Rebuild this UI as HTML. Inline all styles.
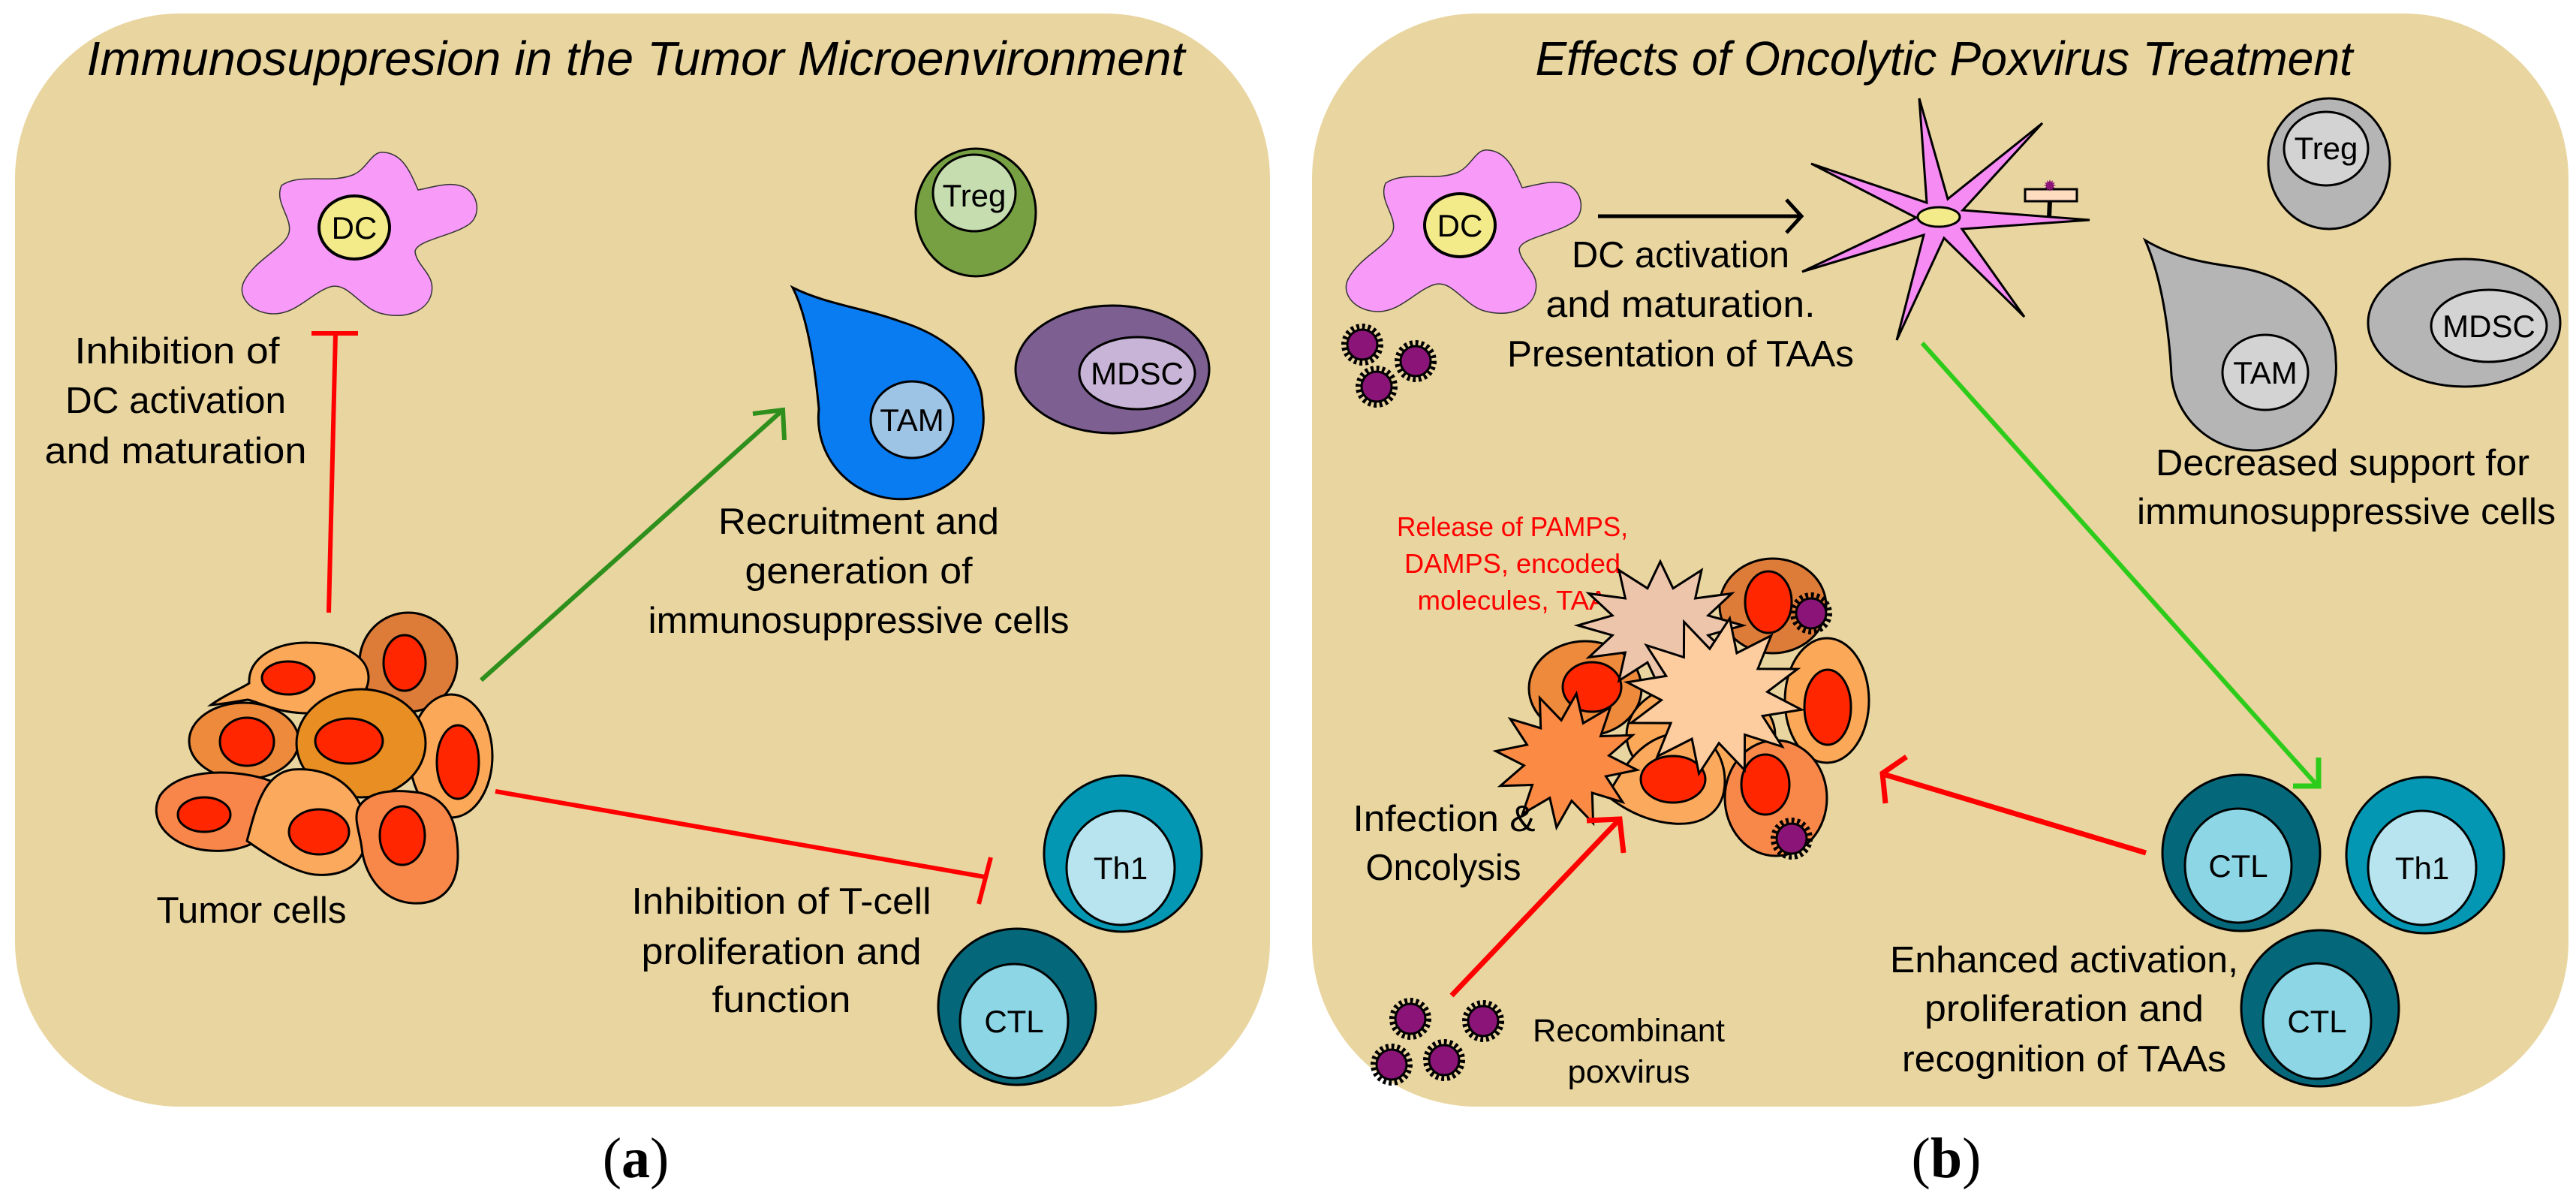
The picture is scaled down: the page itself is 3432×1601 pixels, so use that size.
<!DOCTYPE html>
<html><head><meta charset="utf-8"><style>
html,body{margin:0;padding:0;background:#fff;}
svg{display:block;}
text{font-family:"Liberation Sans",sans-serif;fill:#000;}
</style></head><body>
<svg width="3432" height="1601" viewBox="0 0 3432 1601" xmlns="http://www.w3.org/2000/svg">
<defs>
<g id="virus">
<circle r="23" fill="none" stroke="#000" stroke-width="10" stroke-dasharray="3.6 3.6"/>
<circle r="20" fill="#8B1479" stroke="#000" stroke-width="3"/>
</g>
<polygon id="burst" vector-effect="non-scaling-stroke" points="1,0 .58,.155 .866,.5 .424,.424 .5,.866 .155,.58 0,1 -.155,.58 -.5,.866 -.424,.424 -.866,.5 -.58,.155 -1,0 -.58,-.155 -.866,-.5 -.424,-.424 -.5,-.866 -.155,-.58 0,-1 .155,-.58 .5,-.866 .424,-.424 .866,-.5 .58,-.155"/>
</defs>

<!-- panels -->
<rect x="20" y="18" width="1672" height="1456" rx="220" ry="220" fill="#E9D59F"/>
<rect x="1748" y="18" width="1674" height="1456" rx="220" ry="220" fill="#E9D59F"/>

<text x="847" y="100" font-size="64" font-style="italic" text-anchor="middle" textLength="1463" lengthAdjust="spacingAndGlyphs">Immunosuppresion in the Tumor Microenvironment</text>
<text x="2590" y="100" font-size="64" font-style="italic" text-anchor="middle" textLength="1089" lengthAdjust="spacingAndGlyphs">Effects of Oncolytic Poxvirus Treatment</text>

<!-- ========== PANEL A ========== -->
<path d="M375,247 C400,230 440,245 470,233 C490,225 495,200 512,203 C535,205 545,225 557,253 C575,250 600,240 620,250 C640,262 640,290 623,300 C600,315 555,320 553,335 C555,355 580,365 575,390 C570,415 540,425 510,418 C480,412 465,375 440,382 C415,390 395,418 365,418 C335,418 315,395 325,375 C340,345 380,330 385,310 C390,290 365,270 375,247 Z" fill="#F89BF8" stroke="#333" stroke-width="1.5"/>
<ellipse cx="472" cy="303" rx="47" ry="42" fill="#F3EB8A" stroke="#000" stroke-width="4"/>
<text x="472" y="318" font-size="42" text-anchor="middle">DC</text>

<line x1="438" y1="816" x2="447" y2="444" stroke="#FF0000" stroke-width="6"/>
<line x1="415" y1="444" x2="477" y2="444" stroke="#FF0000" stroke-width="6"/>

<text x="236" y="484" font-size="49" text-anchor="middle" textLength="273" lengthAdjust="spacingAndGlyphs">Inhibition of</text>
<text x="234" y="550" font-size="49" text-anchor="middle" textLength="294" lengthAdjust="spacingAndGlyphs">DC activation</text>
<text x="234" y="617" font-size="49" text-anchor="middle" textLength="349" lengthAdjust="spacingAndGlyphs">and maturation</text>

<!-- Treg -->
<ellipse cx="1300" cy="283" rx="80" ry="85" fill="#77A043" stroke="#000" stroke-width="3"/>
<ellipse cx="1298" cy="257" rx="55" ry="51" fill="#C5DDAF" stroke="#000" stroke-width="3"/>
<text x="1298" y="275" font-size="42" text-anchor="middle">Treg</text>
<!-- TAM -->
<path d="M1056,383 C1100,405 1150,410 1199,428 C1270,450 1309,495 1309,540 A110,108 0 1,1 1091,545 C1085,480 1075,420 1056,383 Z" fill="#0A7CF2" stroke="#000" stroke-width="3"/>
<ellipse cx="1215" cy="559" rx="55" ry="51" fill="#9DC3E5" stroke="#000" stroke-width="3"/>
<text x="1215" y="574" font-size="42" text-anchor="middle">TAM</text>
<!-- MDSC -->
<ellipse cx="1482" cy="492" rx="129" ry="85" fill="#7D5F91" stroke="#000" stroke-width="3"/>
<ellipse cx="1515" cy="497" rx="77" ry="48" fill="#C8B4D6" stroke="#000" stroke-width="3"/>
<text x="1515" y="512" font-size="42" text-anchor="middle">MDSC</text>

<!-- green arrow -->
<line x1="641" y1="906" x2="1043" y2="546" stroke="#2E8F1C" stroke-width="6"/>
<polyline points="1003,551 1043,546 1045,586" fill="none" stroke="#2E8F1C" stroke-width="6"/>

<text x="1144" y="711" font-size="49" text-anchor="middle" textLength="374" lengthAdjust="spacingAndGlyphs">Recruitment and</text>
<text x="1144" y="777" font-size="49" text-anchor="middle" textLength="303" lengthAdjust="spacingAndGlyphs">generation of</text>
<text x="1144" y="843" font-size="49" text-anchor="middle" textLength="561" lengthAdjust="spacingAndGlyphs">immunosuppressive cells</text>

<!-- tumor cluster a -->
<g stroke="#000" stroke-width="3">
<ellipse cx="544" cy="882" rx="65" ry="66" fill="#DD7B38"/>
<ellipse cx="539" cy="883" rx="28" ry="37" fill="#FF2600"/>
<path d="M281,939 C300,925 320,918 332,910 C330,875 370,855 410,856 C460,856 491,875 491,903 C491,930 460,950 410,950 C370,950 345,935 330,932 C310,935 295,938 281,939 Z" fill="#FBA958"/>
<ellipse cx="384" cy="903" rx="35" ry="22" fill="#FF2600"/>
<ellipse cx="325" cy="987" rx="73" ry="51" fill="#EE8A3C"/>
<ellipse cx="329" cy="988" rx="36" ry="32" fill="#FF2600"/>
<ellipse cx="601" cy="1007" rx="55" ry="82" fill="#FBA958"/>
<ellipse cx="610" cy="1015" rx="28" ry="49" fill="#FF2600"/>
<ellipse cx="481" cy="990" rx="86" ry="72" fill="#E88E22"/>
<ellipse cx="465" cy="987" rx="45" ry="30" fill="#FF2600"/>
<path d="M360,1040 C320,1025 240,1020 213,1060 C195,1095 230,1130 280,1133 C320,1136 345,1120 360,1110 Z" fill="#F8864A"/>
<ellipse cx="272" cy="1085" rx="35" ry="23" fill="#FF2600"/>
<path d="M329,1120 C340,1080 350,1030 390,1025 C450,1020 488,1060 488,1110 C488,1150 460,1168 420,1165 C390,1162 350,1135 329,1120 Z" fill="#FBA95C"/>
<ellipse cx="425" cy="1108" rx="40" ry="30" fill="#FF2600"/>
<path d="M478,1075 C490,1055 520,1050 560,1056 C600,1065 610,1100 610,1140 C610,1185 585,1205 550,1203 C505,1200 485,1160 482,1130 C480,1110 470,1090 478,1075 Z" fill="#F8884A"/>
<ellipse cx="536" cy="1113" rx="30" ry="39" fill="#FF2600"/>
</g>
<text x="335" y="1229" font-size="49" text-anchor="middle" textLength="253" lengthAdjust="spacingAndGlyphs">Tumor cells</text>

<!-- red T to T-cells -->
<line x1="660" y1="1054" x2="1312" y2="1168" stroke="#FF0000" stroke-width="6"/>
<line x1="1320" y1="1142" x2="1304" y2="1204" stroke="#FF0000" stroke-width="6"/>

<text x="1041" y="1217" font-size="49" text-anchor="middle" textLength="399" lengthAdjust="spacingAndGlyphs">Inhibition of T-cell</text>
<text x="1041" y="1284" font-size="49" text-anchor="middle" textLength="373" lengthAdjust="spacingAndGlyphs">proliferation and</text>
<text x="1041" y="1348" font-size="49" text-anchor="middle" textLength="185" lengthAdjust="spacingAndGlyphs">function</text>

<ellipse cx="1496" cy="1137" rx="105" ry="104" fill="#0497B3" stroke="#000" stroke-width="3"/>
<ellipse cx="1493" cy="1156" rx="72" ry="76" fill="#B8E4EF" stroke="#000" stroke-width="3"/>
<text x="1493" y="1171" font-size="42" text-anchor="middle">Th1</text>
<ellipse cx="1355" cy="1341" rx="105" ry="104" fill="#05687A" stroke="#000" stroke-width="3"/>
<ellipse cx="1351" cy="1360" rx="72" ry="76" fill="#8DD6E5" stroke="#000" stroke-width="3"/>
<text x="1351" y="1375" font-size="42" text-anchor="middle">CTL</text>

<text x="847" y="1568" font-size="76" text-anchor="middle" style="font-family:'Liberation Serif',serif">(<tspan font-weight="bold">a</tspan>)</text>

<!-- ========== PANEL B ========== -->
<g transform="translate(1471,-3)">
<path d="M375,247 C400,230 440,245 470,233 C490,225 495,200 512,203 C535,205 545,225 557,253 C575,250 600,240 620,250 C640,262 640,290 623,300 C600,315 555,320 553,335 C555,355 580,365 575,390 C570,415 540,425 510,418 C480,412 465,375 440,382 C415,390 395,418 365,418 C335,418 315,395 325,375 C340,345 380,330 385,310 C390,290 365,270 375,247 Z" fill="#F89BF8" stroke="#333" stroke-width="1.5"/>
</g>
<ellipse cx="1945" cy="300" rx="47" ry="42" fill="#F3EB8A" stroke="#000" stroke-width="4"/>
<text x="1945" y="315" font-size="42" text-anchor="middle">DC</text>
<use href="#virus" x="1815" y="459"/>
<use href="#virus" x="1886" y="481"/>
<use href="#virus" x="1834" y="515"/>

<line x1="2129" y1="288" x2="2398" y2="288" stroke="#000" stroke-width="5"/>
<polyline points="2380,266 2400,288 2380,310" fill="none" stroke="#000" stroke-width="5"/>

<text x="2239" y="356" font-size="49" text-anchor="middle" textLength="290" lengthAdjust="spacingAndGlyphs">DC activation</text>
<text x="2239" y="422" font-size="49" text-anchor="middle" textLength="359" lengthAdjust="spacingAndGlyphs">and maturation.</text>
<text x="2239" y="488" font-size="49" text-anchor="middle" textLength="462" lengthAdjust="spacingAndGlyphs">Presentation of TAAs</text>

<!-- activated DC star -->
<polygon points="2557,131 2595,265 2721,164 2615,280 2784,293 2614,305 2697,422 2590,317 2527,453 2563,313 2401,362 2553,290 2413,218 2567,270" fill="#F58BF3" stroke="#000" stroke-width="3"/>
<ellipse cx="2583" cy="289" rx="28" ry="13" fill="#F3EB8A" stroke="#000" stroke-width="3"/>
<line x1="2731" y1="268" x2="2730" y2="290" stroke="#000" stroke-width="6"/>
<rect x="2698" y="252" width="69" height="16" fill="#FDDCC0" stroke="#000" stroke-width="3"/>
<g transform="translate(2731,247) scale(8)"><use href="#burst" fill="#8B1479" stroke="none"/></g>

<!-- gray cells -->
<ellipse cx="3103" cy="218" rx="81" ry="87" fill="#B5B5B5" stroke="#000" stroke-width="3"/>
<ellipse cx="3099" cy="198" rx="56" ry="49" fill="#D3D3D3" stroke="#000" stroke-width="3"/>
<text x="3099" y="212" font-size="42" text-anchor="middle">Treg</text>
<path d="M2858,320 C2900,345 2940,350 2980,356 C3060,368 3112,420 3112,480 A107,107 0 1,1 2893,500 C2890,440 2880,370 2858,320 Z" fill="#B5B5B5" stroke="#000" stroke-width="3"/>
<ellipse cx="3018" cy="496" rx="57" ry="50" fill="#D3D3D3" stroke="#000" stroke-width="3"/>
<text x="3018" y="511" font-size="42" text-anchor="middle">TAM</text>
<ellipse cx="3283" cy="430" rx="128" ry="85" fill="#B5B5B5" stroke="#000" stroke-width="3"/>
<ellipse cx="3316" cy="434" rx="77" ry="48" fill="#D3D3D3" stroke="#000" stroke-width="3"/>
<text x="3316" y="449" font-size="42" text-anchor="middle">MDSC</text>

<text x="3121" y="633" font-size="49" text-anchor="middle" textLength="498" lengthAdjust="spacingAndGlyphs">Decreased support for</text>
<text x="3126" y="698" font-size="49" text-anchor="middle" textLength="558" lengthAdjust="spacingAndGlyphs">immunosuppressive cells</text>

<!-- green arrow b -->
<line x1="2561" y1="457" x2="3087" y2="1046" stroke="#2ECC1A" stroke-width="6"/>
<polyline points="3089,1009 3089,1047 3055,1047" fill="none" stroke="#2ECC1A" stroke-width="7"/>

<!-- red release text -->
<text x="2015" y="714" font-size="36" text-anchor="middle" style="fill:#FF0000" textLength="308" lengthAdjust="spacingAndGlyphs">Release of PAMPS,</text>
<text x="2015" y="763" font-size="36" text-anchor="middle" style="fill:#FF0000" textLength="288" lengthAdjust="spacingAndGlyphs">DAMPS, encoded</text>
<text x="2015" y="812" font-size="36" text-anchor="middle" style="fill:#FF0000" textLength="253" lengthAdjust="spacingAndGlyphs">molecules, TAA</text>

<!-- tumor cluster b -->
<g stroke="#000" stroke-width="3">
<ellipse cx="2362" cy="807" rx="71" ry="63" fill="#DD7B38"/>
<ellipse cx="2356" cy="802" rx="31" ry="41" fill="#FF2600"/>
<ellipse cx="2112" cy="917" rx="75" ry="63" fill="#EE8A3C"/>
<ellipse cx="2121" cy="915" rx="39" ry="33" fill="#FF2600"/>
<ellipse cx="2434" cy="933" rx="56" ry="83" fill="#FBA958"/>
<ellipse cx="2435" cy="942" rx="31" ry="50" fill="#FF2600"/>
<ellipse cx="2266" cy="979" rx="99" ry="71" fill="#FBA958"/>
<path d="M2141,1060 C2160,1030 2180,985 2230,977 C2280,970 2298,1010 2298,1040 C2298,1080 2270,1100 2230,1097 C2190,1094 2160,1075 2141,1060 Z" fill="#FBA95C"/>
<ellipse cx="2229" cy="1038" rx="43" ry="31" fill="#FF2600"/>
<ellipse cx="2366" cy="1063" rx="68" ry="77" fill="#F8884A"/>
<ellipse cx="2352" cy="1045" rx="32" ry="40" fill="#FF2600"/>
</g>
<g transform="translate(2212,833) scale(110,85)"><use href="#burst" fill="#ECC5AB" stroke="#000" stroke-width="3"/></g>
<g transform="translate(2284,927) scale(118,105) rotate(10)"><use href="#burst" fill="#FDCDA0" stroke="#000" stroke-width="3"/></g>
<g transform="translate(2087,1013) scale(95,90) rotate(8)"><use href="#burst" fill="#FB8A45" stroke="#000" stroke-width="3"/></g>
<use href="#virus" x="2413" y="817"/>
<use href="#virus" x="2387" y="1117"/>

<text x="1924" y="1107" font-size="49" text-anchor="middle" textLength="243" lengthAdjust="spacingAndGlyphs">Infection &amp;</text>
<text x="1923" y="1172" font-size="49" text-anchor="middle" textLength="207" lengthAdjust="spacingAndGlyphs">Oncolysis</text>

<!-- red arrows b -->
<line x1="1934" y1="1326" x2="2156" y2="1093" stroke="#FF0000" stroke-width="7"/>
<polyline points="2114,1093 2158,1091 2163,1136" fill="none" stroke="#FF0000" stroke-width="7"/>
<line x1="2859" y1="1136" x2="2512" y2="1032" stroke="#FF0000" stroke-width="7"/>
<polyline points="2540,1008 2508,1030 2512,1070" fill="none" stroke="#FF0000" stroke-width="7"/>

<!-- T cells b -->
<ellipse cx="2986" cy="1136" rx="105" ry="104" fill="#05687A" stroke="#000" stroke-width="3"/>
<ellipse cx="2982" cy="1153" rx="71" ry="76" fill="#8DD6E5" stroke="#000" stroke-width="3"/>
<text x="2982" y="1168" font-size="42" text-anchor="middle">CTL</text>
<ellipse cx="3231" cy="1139" rx="105" ry="104" fill="#0497B3" stroke="#000" stroke-width="3"/>
<ellipse cx="3227" cy="1156" rx="72" ry="76" fill="#B8E4EF" stroke="#000" stroke-width="3"/>
<text x="3227" y="1171" font-size="42" text-anchor="middle">Th1</text>
<ellipse cx="3091" cy="1343" rx="105" ry="104" fill="#05687A" stroke="#000" stroke-width="3"/>
<ellipse cx="3087" cy="1360" rx="72" ry="77" fill="#8DD6E5" stroke="#000" stroke-width="3"/>
<text x="3087" y="1375" font-size="42" text-anchor="middle">CTL</text>

<text x="2750" y="1295" font-size="49" text-anchor="middle" textLength="464" lengthAdjust="spacingAndGlyphs">Enhanced activation,</text>
<text x="2750" y="1360" font-size="49" text-anchor="middle" textLength="372" lengthAdjust="spacingAndGlyphs">proliferation and</text>
<text x="2750" y="1427" font-size="49" text-anchor="middle" textLength="432" lengthAdjust="spacingAndGlyphs">recognition of TAAs</text>

<use href="#virus" x="1879" y="1357"/>
<use href="#virus" x="1976" y="1360"/>
<use href="#virus" x="1854" y="1418"/>
<use href="#virus" x="1924" y="1412"/>
<text x="2170" y="1387" font-size="43" text-anchor="middle" textLength="256" lengthAdjust="spacingAndGlyphs">Recombinant</text>
<text x="2170" y="1442" font-size="43" text-anchor="middle" textLength="163" lengthAdjust="spacingAndGlyphs">poxvirus</text>

<text x="2593" y="1568" font-size="76" text-anchor="middle" style="font-family:'Liberation Serif',serif">(<tspan font-weight="bold">b</tspan>)</text>
</svg>
</body></html>
